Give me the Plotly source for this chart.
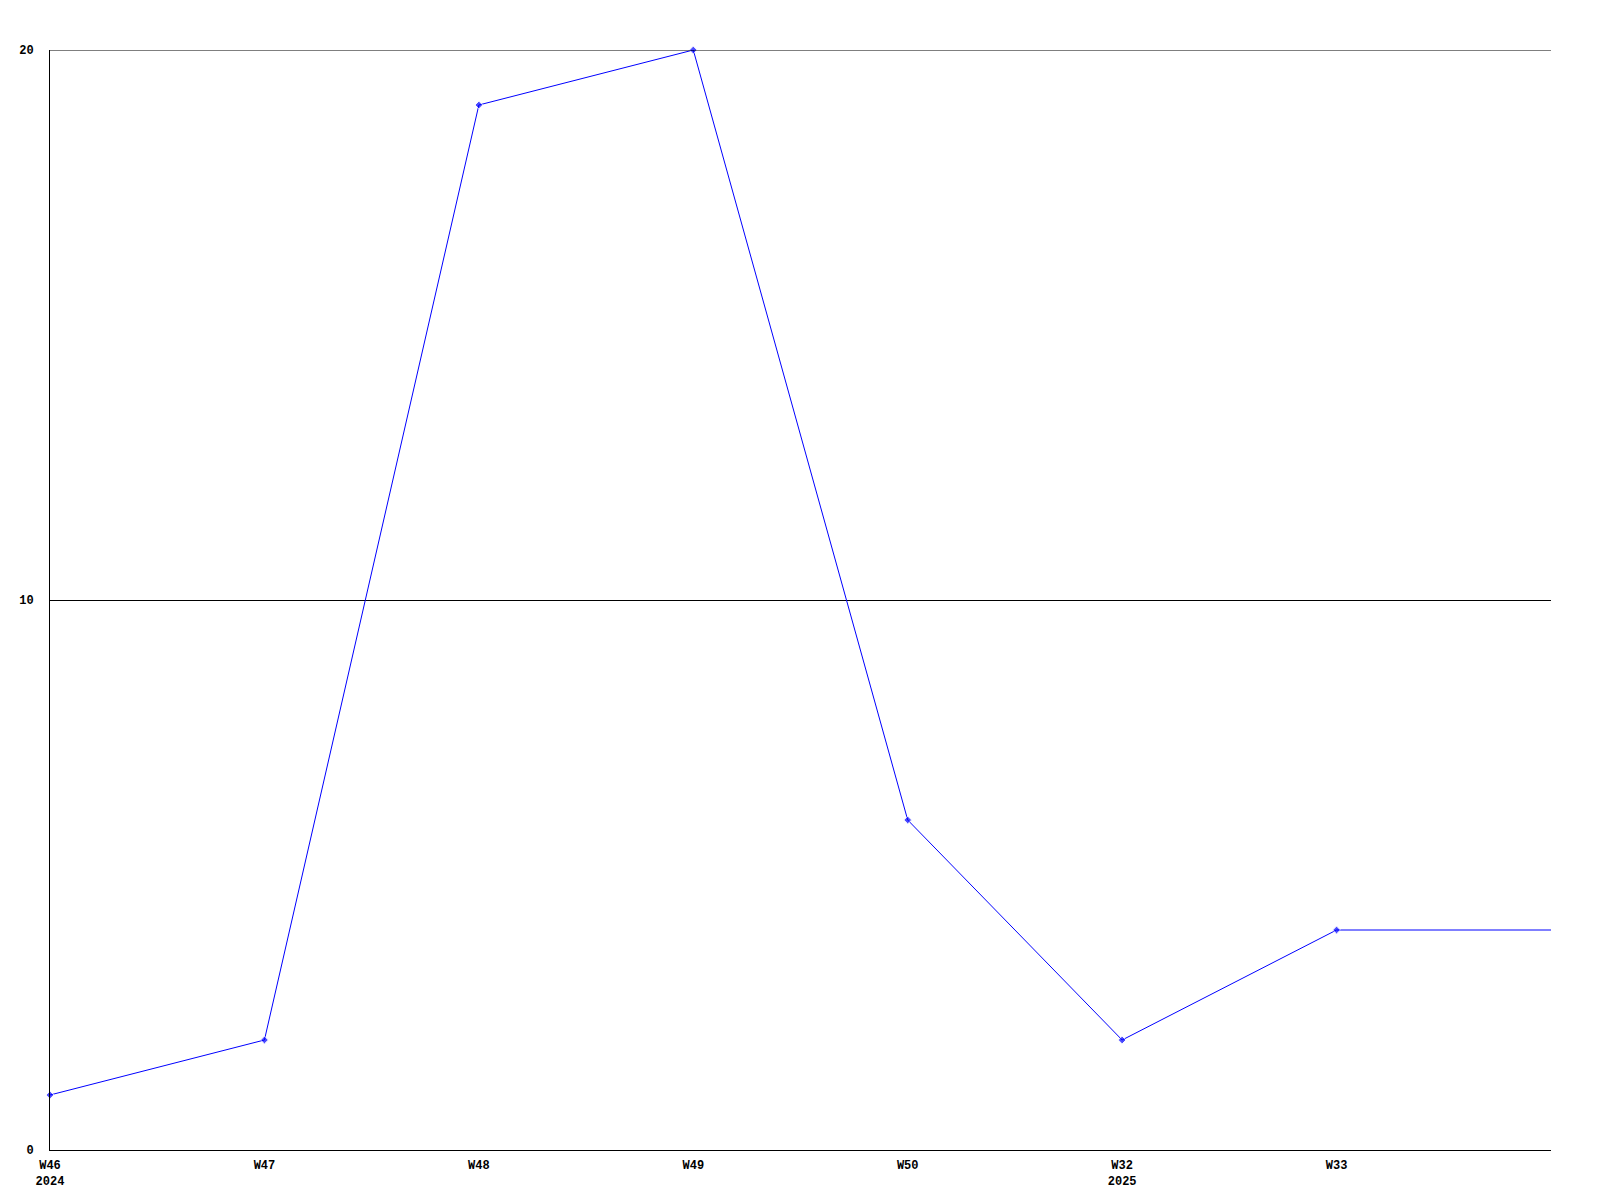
import plotly.graph_objects as go

weeks = ["W46<br>2024", "W47", "W48", "W49", "W50", "W32<br>2025", "W33", ""]
values = [1, 2, 19, 20, 6, 2, 4, 4]
y_ticks = [0, 10, 20]
x_pos = list(range(len(values)))

fig = go.Figure()
fig.add_trace(go.Scatter(
    x=x_pos, y=values, mode="lines+markers",
    line=dict(color="#0000ff", width=1),
    marker=dict(color="#0000ff", size=[6]*7 + [0], symbol="diamond"),
    cliponaxis=False, showlegend=False,
))

font = dict(family="Liberation Mono, DejaVu Sans Mono, monospace", size=12, color="black")

# top gridline at the range edge (plotly drops it)
fig.add_shape(type="line", xref="paper", x0=0, x1=1, yref="y", y0=y_ticks[-1], y1=y_ticks[-1],
              line=dict(color="black", width=1))

fig.update_layout(
    width=1600, height=1200,
    margin=dict(l=42, r=57, t=42, b=58),
    paper_bgcolor="white", plot_bgcolor="white",
    xaxis=dict(
        range=[0, 7], tickvals=x_pos[:7],
        ticktext=["<b>" + w.replace("<br>", "</b><br><b>") + "</b>" for w in weeks[:7]],
        showgrid=False, zeroline=False, showline=True, linecolor="black", linewidth=1,
        ticks="outside", ticklen=4, tickcolor="white", tickfont=font,
    ),
    yaxis=dict(
        range=[0, 20], tickvals=y_ticks, ticktext=[f"<b>{v}</b>" for v in y_ticks],
        showgrid=True, gridcolor="black", gridwidth=1, zeroline=False,
        showline=True, linecolor="black", linewidth=1,
        ticks="outside", ticklen=13, tickcolor="white", tickfont=font,
    ),
)

fig.write_html("out.html")
